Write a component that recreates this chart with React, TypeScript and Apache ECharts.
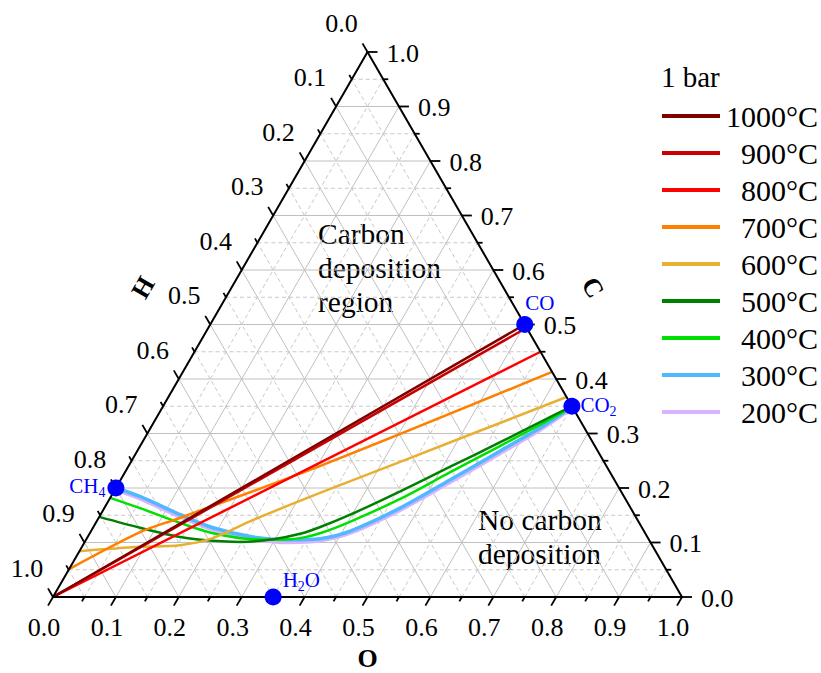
import React, { useEffect, useRef } from 'react';
import * as echarts from 'echarts';

const SQ3 = Math.sqrt(3) / 2;
const FONT = 'Liberation Serif, Times New Roman, serif';

// Ternary points given as [O, C] mole fractions; H = 1 - O - C
const seriesNames = ['1000°C', '900°C', '800°C', '700°C', '600°C', '500°C', '400°C', '300°C', '200°C'];
const seriesColors = ['#800000', '#C80000', '#FF0000', '#FF8000', '#E8B030', '#008000', '#00E000', '#50B8FF', '#D8B4FF'];
const seriesWidths = [2.5, 2.5, 2.5, 2.5, 2.5, 2.5, 2.5, 3.5, 3.5];

const T1000 = [[0, 0], [0.5, 0.5]];
const T900 = [[0, 0], [0.506, 0.494]];
const T800 = [[0, 0], [0.55, 0.45]];
const T700 = [[0, 0.051], [0.079, 0.119], [0.129, 0.145], [0.304, 0.24], [0.587, 0.413]];
const T600 = [[0, 0.084], [0.092, 0.092], [0.154, 0.095], [0.2, 0.108], [0.247, 0.141], [0.329, 0.191], [0.428, 0.248], [0.633, 0.367]];
const T500 = [[0, 0.147], [0.075, 0.127], [0.147, 0.11], [0.203, 0.103], [0.247, 0.101], [0.297, 0.106], [0.335, 0.116], [0.36, 0.128], [0.397, 0.151], [0.455, 0.194], [0.512, 0.239], [0.569, 0.284], [0.614, 0.321], [0.65, 0.35]];
const T400 = [[0, 0.182], [0.057, 0.163], [0.134, 0.136], [0.196, 0.117], [0.265, 0.106], [0.309, 0.105], [0.339, 0.108], [0.366, 0.117], [0.403, 0.138], [0.462, 0.18], [0.517, 0.229], [0.572, 0.277], [0.616, 0.316], [0.651, 0.349]];
const T300 = [[0, 0.2], [0.047, 0.184], [0.127, 0.151], [0.191, 0.127], [0.263, 0.11], [0.325, 0.105], [0.371, 0.107], [0.412, 0.121], [0.47, 0.163], [0.524, 0.215], [0.577, 0.268], [0.619, 0.31], [0.651, 0.349]];
const T200 = [[0.003, 0.196], [0.048, 0.18], [0.129, 0.147], [0.193, 0.123], [0.265, 0.106], [0.327, 0.1], [0.373, 0.103], [0.414, 0.117], [0.472, 0.159], [0.526, 0.21], [0.579, 0.263], [0.621, 0.306], [0.653, 0.347]];
const seriesData = [T1000, T900, T800, T700, T600, T500, T400, T300, T200];
const seriesSmooth = [false, false, false, 0.3, 0.3, 0.3, 0.3, 0.3, 0.3];

const speciesNames = ['CH4', 'H2O', 'CO', 'CO2'];
const speciesRich = ['{n|CH}{s|4}', '{n|H}{s|2}{n|O}', '{n|CO}', '{n|CO}{s|2}'];
const speciesO = [0, 0.35, 0.5, 0.65];
const speciesC = [0.2, 0, 0.5, 0.35];

const majorTicks = [0, 0.1, 0.2, 0.3, 0.4, 0.5, 0.6, 0.7, 0.8, 0.9, 1.0];
const minorTicks = [0.05, 0.15, 0.25, 0.35, 0.45, 0.55, 0.65, 0.75, 0.85, 0.95];
const tickLabels = ['0.0', '0.1', '0.2', '0.3', '0.4', '0.5', '0.6', '0.7', '0.8', '0.9', '1.0'];
const axisTitles = ['O', 'C', 'H'];

const toXY = (o: number, c: number) => [o + c / 2, c * SQ3];

function buildOption() {
  const gridRows: number[][] = [];
  const addGrid = (v: number, dashed: number) => {
    const a1 = toXY(0, v), b1 = toXY(1 - v, v);
    gridRows.push([a1[0], a1[1], b1[0], b1[1], dashed]);
    const a2 = toXY(v, 0), b2 = toXY(v, 1 - v);
    gridRows.push([a2[0], a2[1], b2[0], b2[1], dashed]);
    const a3 = toXY(1 - v, 0), b3 = toXY(0, 1 - v);
    gridRows.push([a3[0], a3[1], b3[0], b3[1], dashed]);
  };
  majorTicks.slice(1, -1).forEach((v) => addGrid(v, 0));
  minorTicks.forEach((v) => addGrid(v, 1));

  const edgeRows = [
    [...toXY(0, 0), ...toXY(1, 0)],
    [...toXY(1, 0), ...toXY(0, 1)],
    [...toXY(0, 1), ...toXY(0, 0)],
  ];

  const tickRows: number[][] = [];
  const addTick = (v: number, major: number, li: number) => {
    const pb = toXY(v, 0);
    tickRows.push([pb[0], pb[1], 0, major, li]);
    const pr = toXY(1 - v, v);
    tickRows.push([pr[0], pr[1], 1, major, li]);
    const pl = toXY(0, 1 - v);
    tickRows.push([pl[0], pl[1], 2, major, li]);
  };
  majorTicks.forEach((v, i) => addTick(v, 1, i));
  minorTicks.forEach((v) => addTick(v, 0, -1));

  const titleRows = [
    [...toXY(0.5, 0), 0],
    [...toXY(0.5, 0.5), 1],
    [...toXY(0, 0.5), 2],
  ];

  const dirs = [[-0.5, 0.866], [1, 0], [-0.5, -0.866]];
  const labelOff = [[-9, 30], [19, 1], [-26, -29]];
  const labelAlign = ['center', 'left', 'center'];
  const titleOff = [[0, 61], [68, -37], [-67, -37]];
  const titleRot = [0, -Math.PI / 3, Math.PI / 3];

  const lineSeries = seriesNames.map((name, i) => ({
    type: 'line',
    name,
    data: seriesData[i].map(([o, c]) => toXY(o, c)),
    smooth: seriesSmooth[i],
    symbol: 'none',
    showSymbol: false,
    clip: false,
    lineStyle: { color: seriesColors[i], width: seriesWidths[i] },
    itemStyle: { color: seriesColors[i] },
    z: 5,
  })).reverse();

  return {
    animation: false,
    backgroundColor: '#ffffff',
    grid: { left: 53, top: 52, width: 629, height: 545 },
    xAxis: { type: 'value', min: 0, max: 1, show: false },
    yAxis: { type: 'value', min: 0, max: SQ3, show: false },
    legend: {
      data: seriesNames,
      orient: 'vertical',
      left: 662,
      top: 101,
      padding: 0,
      itemWidth: 58,
      itemHeight: 4,
      itemGap: 7,
      icon: 'rect',
      formatter: (n: string) => `{r|${n}}`,
      textStyle: {
        fontFamily: FONT,
        fontSize: 30,
        color: '#000',
        rich: { r: { width: 93, align: 'right', fontSize: 30, lineHeight: 31, fontFamily: FONT, color: '#000' } },
      },
    },
    graphic: [
      { type: 'text', left: 661, top: 62, style: { text: '1 bar', fontSize: 29, fontFamily: FONT, fill: '#000' } },
      { type: 'text', left: 318, top: 217, style: { text: 'Carbon\ndeposition\nregion', fontSize: 29.5, lineHeight: 34, fontFamily: FONT, fill: '#000' } },
      { type: 'text', left: 478, top: 503, style: { text: 'No carbon\ndeposition', fontSize: 29.5, lineHeight: 34, fontFamily: FONT, fill: '#000' } },
    ],
    series: [
      {
        type: 'custom',
        name: 'grid',
        silent: true,
        clip: false,
        z: 1,
        encode: { x: [0, 2], y: [1, 3] },
        data: gridRows,
        renderItem: (_p: any, api: any) => {
          const a = api.coord([api.value(0), api.value(1)]);
          const b = api.coord([api.value(2), api.value(3)]);
          const dashed = api.value(4) === 1;
          return {
            type: 'line',
            shape: { x1: a[0], y1: a[1], x2: b[0], y2: b[1] },
            style: { stroke: dashed ? '#c8c8c8' : '#c0c0c0', lineWidth: 1, lineDash: dashed ? [4, 3] : null },
          };
        },
      },
      ...lineSeries,
      {
        type: 'custom',
        name: 'edges',
        silent: true,
        clip: false,
        z: 8,
        encode: { x: [0, 2], y: [1, 3] },
        data: edgeRows,
        renderItem: (_p: any, api: any) => {
          const a = api.coord([api.value(0), api.value(1)]);
          const b = api.coord([api.value(2), api.value(3)]);
          return {
            type: 'line',
            shape: { x1: a[0], y1: a[1], x2: b[0], y2: b[1] },
            style: { stroke: '#000', lineWidth: 2, lineCap: 'round' },
          };
        },
      },
      {
        type: 'custom',
        name: 'ticks',
        silent: true,
        clip: false,
        z: 8,
        encode: { x: 0, y: 1 },
        data: tickRows,
        renderItem: (_p: any, api: any) => {
          const p = api.coord([api.value(0), api.value(1)]);
          const ax = api.value(2);
          const major = api.value(3) === 1;
          const li = api.value(4);
          const d = dirs[ax];
          const len = major ? 10 : 5;
          const children: any[] = [
            {
              type: 'line',
              shape: { x1: p[0], y1: p[1], x2: p[0] + d[0] * len, y2: p[1] + d[1] * len },
              style: { stroke: '#000', lineWidth: 1.8 },
            },
          ];
          if (major) {
            children.push({
              type: 'text',
              x: p[0] + labelOff[ax][0],
              y: p[1] + labelOff[ax][1],
              style: {
                text: tickLabels[li],
                fontSize: 26,
                fontFamily: FONT,
                fill: '#000',
                align: labelAlign[ax],
                verticalAlign: 'middle',
                textAlign: labelAlign[ax],
                textVerticalAlign: 'middle',
              },
            });
          }
          return { type: 'group', children };
        },
      },
      {
        type: 'custom',
        name: 'titles',
        silent: true,
        clip: false,
        z: 8,
        encode: { x: 0, y: 1 },
        data: titleRows,
        renderItem: (_p: any, api: any) => {
          const p = api.coord([api.value(0), api.value(1)]);
          const i = api.value(2);
          return {
            type: 'text',
            x: p[0] + titleOff[i][0],
            y: p[1] + titleOff[i][1],
            rotation: titleRot[i],
            style: {
              text: axisTitles[i],
              fontSize: 26,
              fontWeight: 'bold',
              fontFamily: FONT,
              fill: '#000',
              align: 'center',
              verticalAlign: 'middle',
              textAlign: 'center',
              textVerticalAlign: 'middle',
            },
          };
        },
      },
      {
        type: 'scatter',
        name: 'species',
        z: 10,
        clip: false,
        symbolSize: 17,
        itemStyle: { color: '#0000FF', opacity: 1 },
        data: speciesNames.map((s, i) => {
          const pos = [
            { position: 'left', distance: 2, offset: [0, -1] },
            { position: 'right', distance: 1, offset: [0, -16] },
            { position: 'top', distance: 0, offset: [15, 0] },
            { position: 'right', distance: 0, offset: [0, 0] },
          ][i];
          return {
            name: s,
            value: toXY(speciesO[i], speciesC[i]),
            label: {
              show: true,
              ...pos,
              formatter: speciesRich[i],
              rich: {
                n: { fontSize: 21, fontFamily: FONT, color: '#0000FF', padding: [0, 0, 3, 0], verticalAlign: 'bottom' },
                s: { fontSize: 14, fontFamily: FONT, color: '#0000FF', verticalAlign: 'bottom' },
              },
            },
          };
        }),
      },
    ],
  };
}

export default function App() {
  const ref = useRef<HTMLDivElement>(null);
  useEffect(() => {
    const chart = echarts.init(ref.current!, null, { renderer: 'svg' });
    chart.setOption(buildOption() as any);
    return () => chart.dispose();
  }, []);
  return (
    <div
      ref={ref}
      style={{ position: 'fixed', left: 0, top: 0, width: 821, height: 673, background: '#fff' }}
    />
  );
}
